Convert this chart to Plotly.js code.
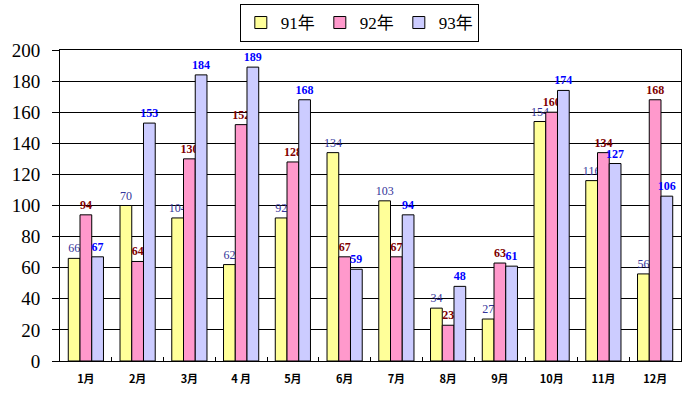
<!DOCTYPE html>
<html><head><meta charset="utf-8">
<script src="https://cdn.plot.ly/plotly-3.0.1.min.js"></script>
<style>html,body{margin:0;padding:0;background:#fff}#c{width:690px;height:397px}</style>
</head><body><div id="c"></div>
<script>
const months = ['1月','2月','3月','4 月','5月','6月','7月','8月','9月','10月','11月','12月'];
const seriesNames = ['91年','92年','93年'];
const y91 = [66,100,92,62,92,134,103,34,27,154,116,56];
const y92 = [94,64,130,152,128,67,67,23,63,160,134,168];
const y93 = [67,153,184,189,168,59,94,48,61,174,127,106];
const lab91 = ['66','70','104','62','92','134','103','34','27','154','116','56'];
const lab92 = ['94','64','130','152','128','67','67','23','63','160','134','168'];
const lab93 = ['67','153','184','189','168','59','94','48','61','174','127','106'];
const yTicks = [0,20,40,60,80,100,120,140,160,180,200];

const fills = ['#FFFF99','#FF99CC','#CCCCFF'];
const labColors = ['#333399','#800000','#0000FF'];
const weights = [400,700,700];
const ys = [y91,y92,y93], labs = [lab91,lab92,lab93];
const serif = 'Times New Roman, Liberation Serif, DejaVu Serif, Noto Sans CJK TC, serif';

const data = ys.map((y,i)=>({
  type:'bar', name:seriesNames[i], x:months, y:y,
  text:labs[i], textposition:'outside', texttemplate:'%{text}',
  constraintext:'none', cliponaxis:false,
  textfont:{family:serif, size:12, color:labColors[i], weight:weights[i]},
  marker:{color:fills[i], line:{color:'#000', width:1}},
  hoverinfo:'none'
}));

const layout = {
  width:690, height:397,
  margin:{l:60, r:9, t:50, b:36, autoexpand:false},
  paper_bgcolor:'#fff', plot_bgcolor:'#fff',
  barmode:'group', bargap:0.32, bargroupgap:0,
  showlegend:true,
  legend:{orientation:'h', x:0.482, xanchor:'center', y:1.148, yanchor:'top',
    bordercolor:'#000', borderwidth:1, bgcolor:'#fff', itemwidth:30,
    font:{family:serif, size:17, color:'#000'}, traceorder:'normal'},
  xaxis:{type:'category', showline:true, linecolor:'#000', linewidth:1, mirror:true,
    ticks:'inside', ticklen:4, tickcolor:'#000', tickson:'boundaries', ticklabelstandoff:8,
    tickfont:{family:'Noto Sans CJK TC, serif', size:11, color:'#000', weight:700},
    showgrid:false, fixedrange:true},
  yaxis:{range:[0,200], tickvals:yTicks, ticktext:yTicks.map(String),
    showline:true, linecolor:'#000', linewidth:1, mirror:true,
    ticks:'outside', ticklen:7, tickcolor:'#000', ticklabelstandoff:8,
    showgrid:true, gridcolor:'#000', gridwidth:1, zeroline:false,
    tickfont:{family:serif, size:19, color:'#000'}}
};
Plotly.newPlot('c', data, layout, {displayModeBar:false, staticPlot:true});
</script></body></html>
